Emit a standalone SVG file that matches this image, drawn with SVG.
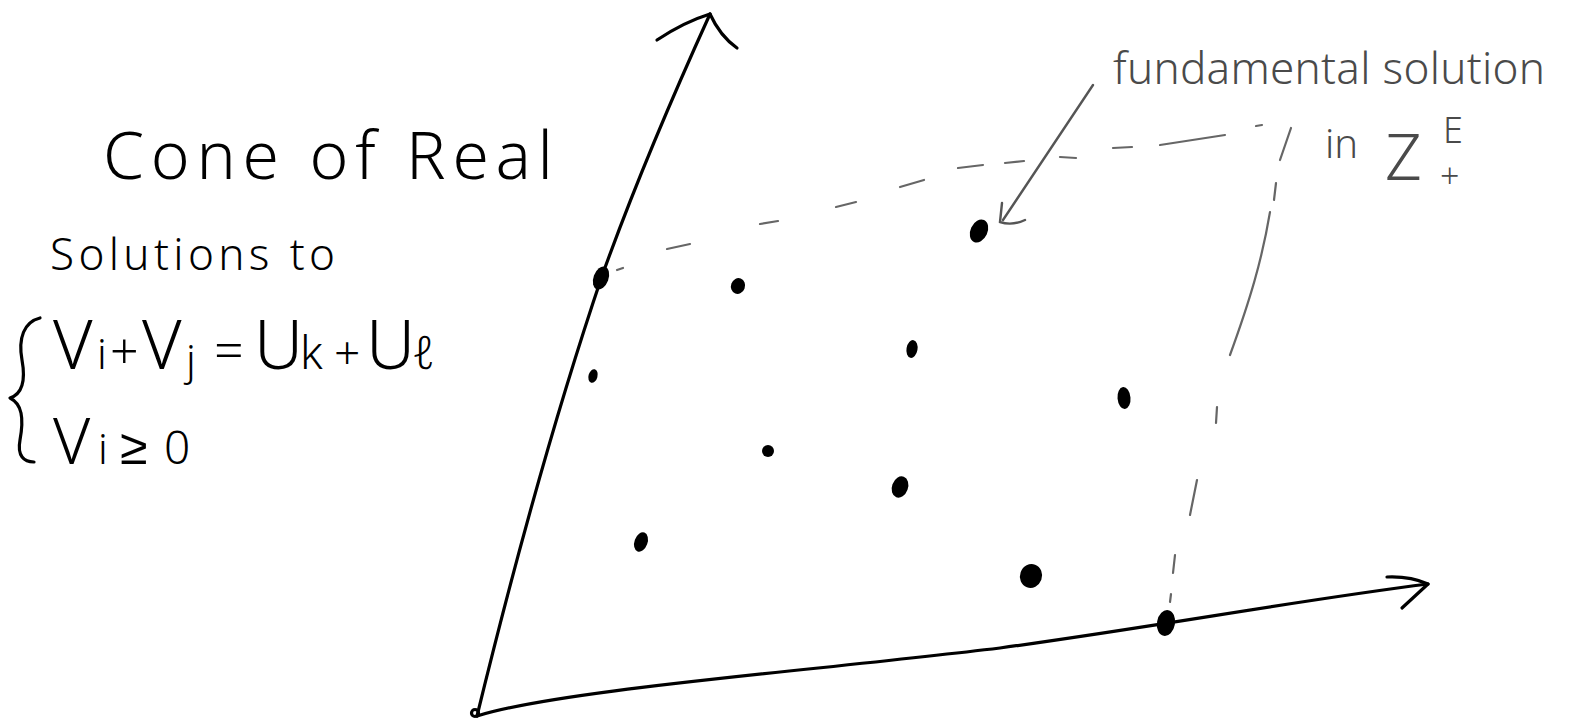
<svg xmlns="http://www.w3.org/2000/svg" width="1573" height="723" viewBox="0 0 1573 723">
<style>
.ink{fill:none;stroke:#000;stroke-width:3.2;stroke-linecap:round;stroke-linejoin:round}
.pencil{fill:none;stroke:#555;stroke-width:2.4;stroke-linecap:round}
.dash{fill:none;stroke:#666;stroke-width:2.2;stroke-linecap:round}
.dot{fill:#000}
.hand{font-family:"Noto Sans","Liberation Sans",sans-serif;fill:#000;font-weight:300}
.gray{font-family:"Noto Sans","Liberation Sans",sans-serif;fill:#4a4a4a;font-weight:300}
</style>
<rect width="1573" height="723" fill="#fff"/>

<g id="title">
<text class="hand" x="103" y="179" font-size="66" textLength="450" lengthAdjust="spacing">Cone of Real</text>
<text class="hand" x="50" y="270" font-size="44" textLength="285" lengthAdjust="spacing">Solutions to</text>
</g>

<g id="system">
<path class="ink" d="M40,318 C24,322 18,338 22,360 C26,382 22,394 10,398 C22,404 24,418 20,440 C17,456 24,462 34,462"/>
<text class="hand" font-size="68" y="369"><tspan x="53">V</tspan><tspan x="97" font-size="42">i</tspan><tspan x="110" font-size="50">+</tspan><tspan x="142">V</tspan><tspan x="186" font-size="42" dy="6">j</tspan><tspan x="214" font-size="52" dy="-6">=</tspan><tspan x="254">U</tspan><tspan x="300" font-size="46">k</tspan><tspan x="334" font-size="46">+</tspan><tspan x="366">U</tspan><tspan x="412" font-size="46">ℓ</tspan></text>
<text class="hand" font-size="64" y="464"><tspan x="53">V</tspan><tspan x="98" font-size="42">i</tspan><tspan x="120" font-size="50">≥</tspan><tspan x="164" font-size="46">0</tspan></text>
</g>

<g id="connectors">
<path class="ink" d="M477,716 C520,540 560,400 602,276 C640,170 680,80 710,14"/>
<path class="ink" stroke-width="4" d="M657,40 Q684,22 710,14 Q720,36 737,48"/>
<path class="ink" d="M477,716 C560,690 800,672 1000,648 C1160,626 1300,600 1428,584"/>
<path class="ink" d="M1387,577 Q1410,576 1428,584 Q1415,596 1402,608"/>
<circle cx="475" cy="713" r="3.5" class="ink" stroke-width="2"/>
<path class="pencil" stroke-width="3" d="M1093,85 L1003,220"/>
<path class="pencil" stroke-width="3" d="M1002,203 L1000,222 Q1012,226 1025,220"/>
</g>

<g id="dashed-boundary">
<path class="dash" d="M617,270 L623,268"/>
<path class="dash" d="M667,249 L690,244"/>
<path class="dash" d="M760,224 L778,221"/>
<path class="dash" d="M836,207 L856,202"/>
<path class="dash" d="M900,187 L924,180"/>
<path class="dash" d="M958,168 L983,165"/>
<path class="dash" d="M1005,163 L1024,161"/>
<path class="dash" d="M1060,157 L1076,158"/>
<path class="dash" d="M1113,148 L1132,147"/>
<path class="dash" d="M1160,145 L1225,135"/>
<path class="dash" d="M1256,126 L1262,125"/>
<path class="dash" d="M1291,128 L1280,160"/>
<path class="dash" d="M1276,183 L1274,200"/>
<path class="dash" d="M1270,212 C1262,260 1250,300 1230,355"/>
<path class="dash" d="M1217,407 L1216,423"/>
<path class="dash" d="M1197,480 L1190,515"/>
<path class="dash" d="M1175,555 L1173,573"/>
<path class="dash" d="M1171,594 L1170,602"/>
</g>

<g id="lattice-points">
<ellipse class="dot" cx="601" cy="278" rx="7.5" ry="12" transform="rotate(20 601 278)"/>
<ellipse class="dot" cx="738" cy="286" rx="7" ry="8" transform="rotate(20 738 286)"/>
<ellipse class="dot" cx="593" cy="376" rx="4.5" ry="7" transform="rotate(15 593 376)"/>
<ellipse class="dot" cx="912" cy="349" rx="5.5" ry="9" transform="rotate(10 912 349)"/>
<ellipse class="dot" cx="979" cy="231" rx="8.5" ry="12" transform="rotate(25 979 231)"/>
<ellipse class="dot" cx="1124" cy="398" rx="6.5" ry="11" transform="rotate(-5 1124 398)"/>
<ellipse class="dot" cx="768" cy="451" rx="6" ry="6"/>
<ellipse class="dot" cx="900" cy="487" rx="8" ry="11" transform="rotate(20 900 487)"/>
<ellipse class="dot" cx="641" cy="542" rx="6.5" ry="10" transform="rotate(20 641 542)"/>
<ellipse class="dot" cx="1031" cy="576" rx="11" ry="12" transform="rotate(20 1031 576)"/>
<ellipse class="dot" cx="1166" cy="623" rx="9" ry="13" transform="rotate(10 1166 623)"/>
</g>

<g id="fundamental-label">
<text class="gray" x="1113" y="84" font-size="44" textLength="432" lengthAdjust="spacing">fundamental solution</text>
<text class="gray" x="1325" y="158" font-size="40">in</text>
<text class="gray" x="1385" y="180" font-size="64">Z</text>
<text class="gray" x="1443" y="143" font-size="36">E</text>
<text class="gray" x="1440" y="188" font-size="34">+</text>
</g>
</svg>
